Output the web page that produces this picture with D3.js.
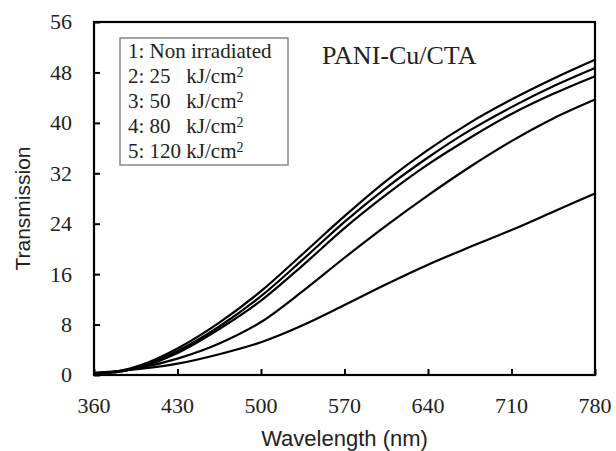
<!DOCTYPE html>
<html>
<head>
<meta charset="utf-8">
<title>PANI-Cu/CTA transmission</title>
<script src="https://d3js.org/d3.v7.min.js"></script>
<style>
  body { margin: 0; background: #fff; }
  .lbl { font-family: "Liberation Serif", "Times New Roman", serif; fill: #222; }
</style>
</head>
<body>
<div id="chart"></div>
<script>
// wavelength samples (nm)
var wavelengths = [360, 380, 400, 430, 465, 500, 535, 570, 605, 640, 675, 710, 745, 780];

// transmission for each dose
var nonIrradiated = [0.3, 0.6, 1.6, 4.2, 8.3, 13.3, 19.2, 25.2, 30.8, 35.7, 40.0, 43.7, 47.0, 50.0];
var dose25  = [0.3, 0.5, 1.4, 3.8, 7.7, 12.5, 18.3, 24.3, 29.7, 34.5, 38.8, 42.5, 45.8, 48.7];
var dose50  = [0.3, 0.5, 1.3, 3.5, 7.3, 11.8, 17.4, 23.3, 28.6, 33.4, 37.6, 41.4, 44.6, 47.4];
var dose80  = [0.3, 0.6, 1.2, 2.6, 5.0, 8.4, 13.3, 18.6, 23.7, 28.5, 33.0, 37.1, 40.7, 43.7];
var dose120 = [0.3, 0.6, 1.0, 1.8, 3.3, 5.2, 7.9, 11.1, 14.4, 17.5, 20.3, 23.0, 25.9, 28.8];

var series = [nonIrradiated, dose25, dose50, dose80, dose120];

var legendLabels = ["1: Non irradiated", "2: 25\u00a0\u00a0\u00a0kJ/cm", "3: 50\u00a0\u00a0\u00a0kJ/cm", "4: 80\u00a0\u00a0\u00a0kJ/cm", "5: 120 kJ/cm"];
var xTicks = [360, 430, 500, 570, 640, 710, 780];
var yTicks = [0, 8, 16, 24, 32, 40, 48, 56];

var w = 616, h = 451;
var margin = {left: 94, top: 22, right: 21, bottom: 76};
var sans = "'Liberation Sans', Arial, sans-serif";

var svg = d3.select("#chart").append("svg")
  .attr("width", w)
  .attr("height", h);

var x = d3.scaleLinear().domain([360, 780]).range([margin.left, w - margin.right]);
var y = d3.scaleLinear().domain([0, 56]).range([h - margin.bottom, margin.top]);

// axes: inward tick marks only, labels drawn below in serif
var xAxis = svg.append("g")
  .attr("transform", "translate(0," + (h - margin.bottom) + ")")
  .call(d3.axisBottom(x).tickValues(xTicks).tickSizeInner(-6).tickSizeOuter(0).tickFormat(""));
var yAxis = svg.append("g")
  .attr("transform", "translate(" + margin.left + ",0)")
  .call(d3.axisLeft(y).tickValues(yTicks).tickSizeInner(-6).tickSizeOuter(0).tickFormat(""));

[xAxis, yAxis].forEach(function(a) {
  a.select(".domain").remove();
  a.selectAll(".tick line").attr("stroke", "#000").attr("stroke-width", 2);
});

svg.selectAll(".xlab")
  .data(xTicks)
  .enter()
  .append("text")
  .attr("class", "lbl xlab")
  .attr("x", function(d) { return x(d); })
  .attr("y", h - margin.bottom + 38)
  .attr("text-anchor", "middle")
  .style("font-size", "22px")
  .text(function(d) { return d; });

svg.selectAll(".ylab")
  .data(yTicks)
  .enter()
  .append("text")
  .attr("class", "lbl ylab")
  .attr("x", margin.left - 22)
  .attr("y", function(d) { return y(d); })
  .attr("dy", "0.34em")
  .attr("text-anchor", "end")
  .style("font-size", "22px")
  .text(function(d) { return d; });

// frame
svg.append("rect")
  .attr("x", x(360))
  .attr("y", y(56))
  .attr("width", x(780) - x(360))
  .attr("height", y(0) - y(56))
  .attr("fill", "none")
  .attr("stroke", "#000")
  .attr("stroke-width", 2.2);

// curves
var line = d3.line()
  .x(function(d, i) { return x(wavelengths[i]); })
  .y(function(d) { return y(d); })
  .curve(d3.curveMonotoneX);

svg.selectAll(".curve")
  .data(series)
  .enter()
  .append("path")
  .attr("class", "curve")
  .attr("d", line)
  .attr("fill", "none")
  .attr("stroke", "#000")
  .attr("stroke-width", 2.2);

// axis titles
svg.append("text")
  .attr("x", (x(360) + x(780)) / 2)
  .attr("y", 446)
  .attr("text-anchor", "middle")
  .style("font-family", sans)
  .style("font-size", "22px")
  .attr("fill", "#222")
  .text("Wavelength (nm)");

svg.append("text")
  .attr("transform", "translate(30," + ((y(0) + y(56)) / 2 + 10) + ") rotate(-90)")
  .attr("text-anchor", "middle")
  .style("font-family", sans)
  .style("font-size", "21px")
  .attr("fill", "#222")
  .text("Transmission");

// sample name
svg.append("text")
  .attr("class", "lbl")
  .attr("x", 322)
  .attr("y", 64)
  .style("font-size", "26px")
  .text("PANI-Cu/CTA");

// legend box
svg.append("rect")
  .attr("x", 120)
  .attr("y", 38)
  .attr("width", 168)
  .attr("height", 127)
  .attr("fill", "#fff")
  .attr("stroke", "#888")
  .attr("stroke-width", 1.5);

var leg = svg.selectAll(".leg")
  .data(legendLabels)
  .enter()
  .append("text")
  .attr("class", "lbl leg")
  .attr("x", 128)
  .attr("y", function(d, i) { return 58 + i * 25; })
  .style("font-size", "21px")
  .text(function(d) { return d; });

leg.filter(function(d, i) { return i > 0; })
  .append("tspan")
  .attr("dy", "-0.45em")
  .style("font-size", "14px")
  .text("2");
</script>
</body>
</html>
